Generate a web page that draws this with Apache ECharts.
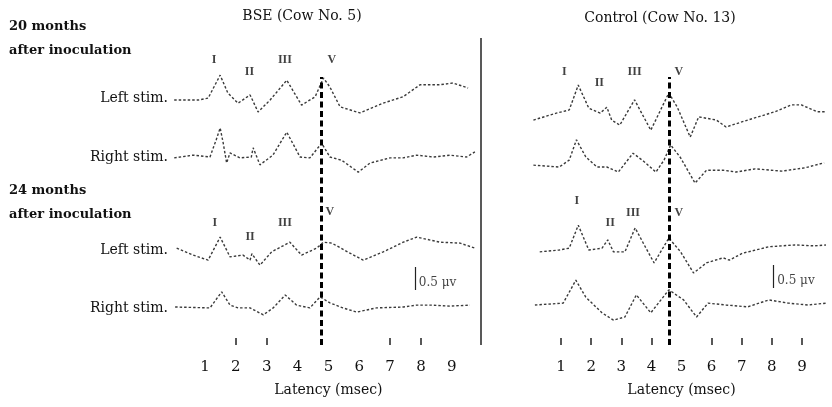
<!DOCTYPE html>
<html><head><meta charset="utf-8">
<script src="https://cdn.jsdelivr.net/npm/echarts@6/dist/echarts.min.js"></script>
<style>html,body{margin:0;padding:0;background:#fff}#c{width:832px;height:407px}</style>
</head><body><div id="c"></div><script>
// ---- data: [latency (ms), amplitude (µV)] ----
const bseLeft20 = [[0,0],[0.78,0],[1.1,0.04],[1.49,0.54],[1.74,0.15],[2.07,-0.07],[2.46,0.11],[2.72,-0.26],[3.11,0],[3.65,0.43],[4.13,-0.11],[4.57,0.07],[4.84,0.48],[5.05,0.28],[5.38,-0.15],[6.02,-0.28],[6.77,-0.07],[7.42,0.07],[7.97,0.33],[8.6,0.33],[9.04,0.37],[9.53,0.26]];
const bseRight20 = [[0,-0.02],[0.61,0.04],[1.16,0],[1.36,0.37],[1.49,0.63],[1.59,0.3],[1.7,-0.13],[1.81,0.09],[2.13,-0.02],[2.5,0],[2.56,0.2],[2.78,-0.17],[3.2,0.04],[3.65,0.54],[4.08,0],[4.4,-0.02],[4.78,0.3],[5.05,0],[5.43,-0.07],[5.97,-0.33],[6.35,-0.13],[7.0,-0.02],[7.42,-0.02],[7.86,0.04],[8.4,0],[8.94,0.04],[9.48,0],[9.75,0.11]];
const bseLeft24 = [[0.08,0.04],[0.61,-0.11],[1.1,-0.22],[1.49,0.28],[1.81,-0.15],[2.23,-0.11],[2.46,-0.22],[2.52,-0.08],[2.78,-0.33],[3.16,-0.04],[3.75,0.17],[4.13,-0.11],[4.62,0.04],[4.84,0.17],[5.11,0.15],[5.7,-0.07],[6.13,-0.22],[6.78,-0.04],[7.43,0.17],[7.86,0.28],[8.62,0.17],[9.27,0.15],[9.75,0.04]];
const bseRight24 = [[0.03,0],[1.16,-0.02],[1.54,0.33],[1.81,0.04],[2.07,-0.02],[2.46,-0.02],[2.89,-0.17],[3.21,-0.02],[3.6,0.26],[3.97,0.04],[4.4,-0.02],[4.73,0.22],[5.05,0.09],[5.47,-0.02],[5.92,-0.11],[6.56,-0.02],[7.43,0],[7.86,0.04],[8.4,0.04],[8.94,0.02],[9.59,0.04]];
const ctlLeft20 = [[0.08,-0.11],[0.84,0.04],[1.27,0.11],[1.57,0.65],[1.92,0.15],[2.3,0.04],[2.52,0.17],[2.68,-0.11],[2.95,-0.22],[3.44,0.33],[3.98,-0.33],[4.58,0.48],[4.86,0.17],[5.29,-0.48],[5.57,-0.04],[6.16,-0.11],[6.48,-0.26],[7.2,-0.11],[8.1,0.07],[8.65,0.22],[8.98,0.22],[9.52,0.07],[9.8,0.07]];
const ctlRight20 = [[0.08,0.04],[0.94,0],[1.27,0.15],[1.51,0.59],[1.82,0.22],[2.19,0],[2.52,0],[2.9,-0.11],[3.39,0.3],[3.77,0.11],[4.15,-0.11],[4.42,0.15],[4.64,0.48],[4.97,0.2],[5.45,-0.35],[5.83,-0.07],[6.38,-0.07],[6.81,-0.11],[7.45,-0.04],[8.33,-0.09],[9.09,-0.02],[9.74,0.09]];
const ctlLeft24 = [[0.29,-0.04],[0.94,0],[1.27,0.04],[1.57,0.54],[1.92,0],[2.36,0.04],[2.55,0.22],[2.74,-0.04],[3.12,-0.04],[3.46,0.48],[3.82,0.04],[4.09,-0.28],[4.58,0.26],[4.97,-0.04],[5.4,-0.5],[5.83,-0.28],[6.38,-0.17],[6.59,-0.22],[7.03,-0.07],[7.9,0.07],[8.76,0.11],[9.41,0.09],[9.8,0.11]];
const ctlRight24 = [[0.13,0],[1.07,0.04],[1.49,0.54],[1.82,0.17],[2.36,-0.17],[2.74,-0.33],[3.12,-0.26],[3.5,0.22],[3.98,-0.17],[4.58,0.33],[5.07,0.11],[5.5,-0.26],[5.88,0.04],[6.48,0],[7.2,-0.04],[7.9,0.11],[8.55,0.04],[9.2,0],[9.8,0.04]];

// peak labels [latency, amplitude, text]
const bseLeft20Peaks = [[1.29,0.87,'I'],[2.44,0.61,'II'],[3.59,0.87,'III'],[5.11,0.87,'V']];
const bseLeft24Peaks = [[1.32,0.59,'I'],[2.46,0.28,'II'],[3.59,0.59,'III'],[5.05,0.83,'V']];
const ctlLeft20Peaks = [[1.11,0.93,'I'],[2.27,0.7,'II'],[3.44,0.93,'III'],[4.91,0.93,'V']];
const ctlLeft24Peaks = [[1.52,1.07,'I'],[2.63,0.59,'II'],[3.39,0.8,'III'],[4.91,0.8,'V']];

// scale bars: [latency, from µV, to µV]
const bseScale = [7.81, 0.37, 0.87];
const ctlScale = [8.06, 0.37, 0.87];
const scaleText = '0.5 μv';

// axis
const tickLabels = [1,2,3,4,5,6,7,8,9];
const bseTicks = [2,3,7,8];
const ctlTicks = [1,2,3,4,6,7,8,9];
const bseWaveV = 4.78;
const ctlWaveV = 4.6;

const SERIF = 'DejaVu Serif';
const panels = [
  {left:174.2, width:308.4, baselines:[100,157,250,307],
   traces:[bseLeft20,bseRight20,bseLeft24,bseRight24],
   peaks:[bseLeft20Peaks,null,bseLeft24Peaks,null], scale:bseScale, ticks:bseTicks, dash:bseWaveV},
  {left:531, width:307, baselines:[115,167,250,305],
   traces:[ctlLeft20,ctlRight20,ctlLeft24,ctlRight24],
   peaks:[ctlLeft20Peaks,null,ctlLeft24Peaks,null], scale:ctlScale, ticks:ctlTicks, dash:ctlWaveV}
];
const PX_PER_UV = 46;

const grid=[], xAxis=[], yAxis=[], series=[];
panels.forEach(p=>{
  // axis grid
  const ai = grid.length;
  grid.push({left:p.left, width:p.width, top:77, height:268});
  xAxis.push({gridIndex:ai, type:'value', min:0, max:10,
    axisLine:{show:false}, splitLine:{show:false},
    axisTick:{show:true, inside:true, length:7, customValues:p.ticks, lineStyle:{color:'#222', width:1.5}},
    axisLabel:{customValues:tickLabels, margin:15, color:'#111', fontFamily:SERIF, fontSize:15},
    name:'Latency (msec)', nameLocation:'middle', nameGap:38,
    nameTextStyle:{color:'#111', fontFamily:SERIF, fontSize:14}});
  yAxis.push({gridIndex:ai, type:'value', min:0, max:1, show:false});
  series.push({type:'line', xAxisIndex:ai, yAxisIndex:ai, data:[], silent:true,
    markLine:{symbol:'none', silent:true, label:{show:false},
      lineStyle:{color:'#000', width:3, type:[6,3.5]}, data:[{xAxis:p.dash}]}});
  p.traces.forEach((tr,k)=>{
    const gi = grid.length;
    grid.push({left:p.left, width:p.width, top:p.baselines[k]-PX_PER_UV, height:PX_PER_UV*2});
    xAxis.push({gridIndex:gi, type:'value', min:0, max:10, show:false});
    yAxis.push({gridIndex:gi, type:'value', min:-1, max:1, show:false});
    const s = {type:'line', xAxisIndex:gi, yAxisIndex:gi, data:tr, showSymbol:false, silent:true,
      clip:false, lineStyle:{color:'#3a3a3a', width:1.4, type:[2.5,2]}};
    if(k===3){
      s.markLine = {symbol:'none', silent:true, label:{show:false},
        lineStyle:{color:'#222', width:1.2, type:'solid'},
        data:[[{coord:[p.scale[0],p.scale[1]]},{coord:[p.scale[0],p.scale[2]]}]]};
    }
    series.push(s);
    if(p.peaks[k]){
      series.push({type:'scatter', xAxisIndex:gi, yAxisIndex:gi, data:p.peaks[k], symbolSize:0, clip:false, silent:true,
        label:{show:true, position:'inside', formatter:o=>o.value[2], color:'#111',
          fontFamily:'Liberation Serif', fontWeight:'bold', fontSize:12}});
    }
    if(k===3){
      series.push({type:'scatter', xAxisIndex:gi, yAxisIndex:gi,
        data:[[p.scale[0]+0.12,(p.scale[1]+p.scale[2])/2-0.1,scaleText]], symbolSize:0, clip:false, silent:true,
        label:{show:true, position:'right', distance:0, formatter:o=>o.value[2], color:'#111',
          fontFamily:SERIF, fontSize:12}});
    }
  });
});

const txt = (x,y,t,opt)=>Object.assign({type:'text', x, y, style:Object.assign({text:t, fill:'#111',
  font:'14px "'+SERIF+'"', textVerticalAlign:'middle'}, opt||{})});
const bold = '700 13px "'+SERIF+'"';
const graphic = [
  txt(302,16,'BSE (Cow No. 5)',{textAlign:'center'}),
  txt(660,18,'Control (Cow No. 13)',{textAlign:'center'}),
  txt(9,27,'20 months',{font:bold}),
  txt(9,51,'after inoculation',{font:bold}),
  txt(9,191,'24 months',{font:bold}),
  txt(9,215,'after inoculation',{font:bold}),
  txt(168,98,'Left stim.',{textAlign:'right'}),
  txt(168,157,'Right stim.',{textAlign:'right'}),
  txt(168,250,'Left stim.',{textAlign:'right'}),
  txt(168,308,'Right stim.',{textAlign:'right'}),
  {type:'line', shape:{x1:481,y1:38,x2:481,y2:345}, style:{stroke:'#222', lineWidth:1.5}}
];

const chart = echarts.init(document.getElementById('c'));
chart.setOption({animation:false, backgroundColor:'#fff', grid, xAxis, yAxis, series, graphic});
</script></body></html>
